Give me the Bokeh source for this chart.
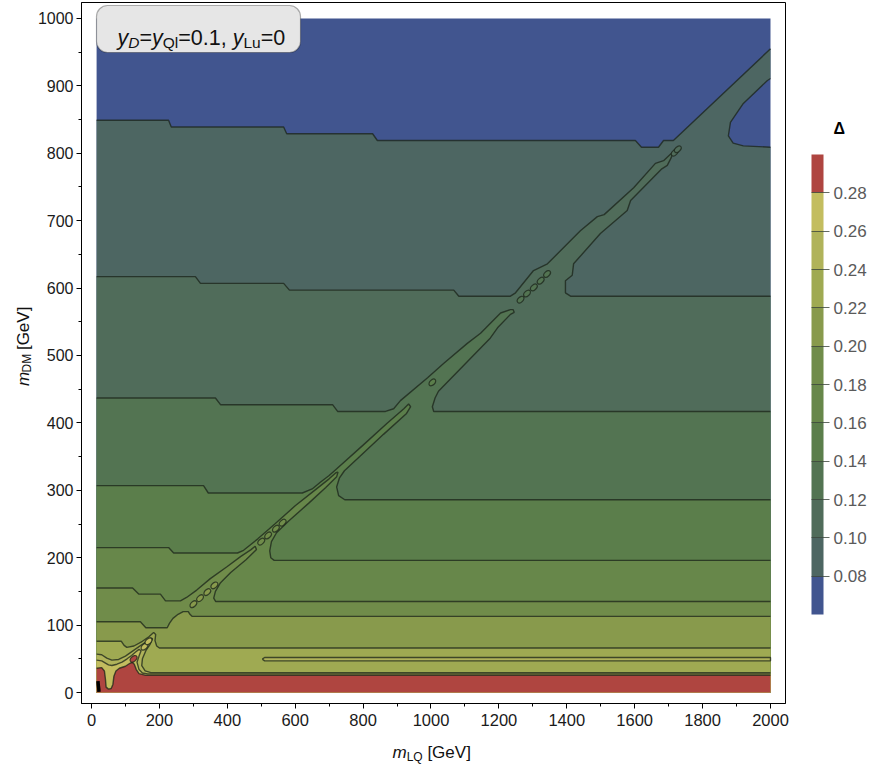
import math
from bokeh.plotting import figure
from bokeh.layouts import row, column
from bokeh.models import (Range1d, SingleIntervalTicker, LinearColorMapper, ColorBar,
                          FixedTicker, PrintfTickFormatter, Label, BoxAnnotation)
from bokeh.embed import file_html
from bokeh.resources import INLINE

# ---------------- data ----------------
levels = [0.08, 0.10, 0.12, 0.14, 0.16, 0.18, 0.20, 0.22, 0.24, 0.26, 0.28]
band_colors = ["#41558F", "#4D6662", "#506C5A", "#537452", "#5B7E4B", "#67874A",
               "#708C4A", "#889A4C", "#9FAA52", "#B0B35A", "#C3BD5F", "#AF4540"]
m_lq_min, m_lq_max = 15, 2000
m_dm_min, m_dm_max = 0, 1000

# contour Delta = 0.08
c08_x = [15, 227, 235, 566, 575, 828, 842, 1602, 1620, 1670, 1685, 1714, 2000]
c08_y = [849, 849, 839, 839, 829, 829, 819, 819, 809, 809, 819, 819, 955]
c08b_x = [2000, 1991, 1920, 1882, 1876, 1890, 1920, 2000]
c08b_y = [911, 908, 874, 846, 826, 815, 811, 809]
# contour Delta = 0.10
c10_x = [15, 306, 321, 566, 583, 1067, 1082, 1234, 1249, 1302, 1343, 1440, 1490, 1510, 1597,
         1661, 1685, 1706, 1712, 1708, 1696, 1680, 1588, 1578, 1499, 1420, 1416, 1396, 1396, 1411, 2000]
c10_y = [617, 617, 607, 607, 597, 597, 588, 588, 593, 626, 636, 685, 706, 709, 749,
         785, 789, 799, 802, 794, 782, 777, 730, 715, 681, 636, 619, 611, 593, 588, 588]
# contour Delta = 0.12
c12_x = [15, 365, 380, 710, 725, 866, 890, 910, 990, 1037, 1107, 1146, 1205, 1234, 1242, 1245,
         1234, 1196, 1175, 1022, 1012, 1004, 1008, 2000]
c12_y = [437, 437, 427, 427, 417, 417, 421, 433, 467, 488, 518, 533, 563, 568, 568, 564,
         561, 541, 526, 447, 437, 424, 417, 417]
# contour Delta = 0.14
c14_x = [15, 330, 344, 621, 650, 674, 700, 720, 800, 870, 920, 934, 940, 928, 860, 790, 745,
         730, 722, 728, 746, 2000]
c14_y = [307, 307, 296, 296, 302, 312, 322, 331, 367, 399, 421, 428, 424, 414, 383, 350, 329,
         318, 305, 292, 286, 286]
# contour Delta = 0.16
c16_x = [15, 227, 242, 430, 448, 490, 540, 600, 660, 700, 720, 726, 722, 690, 640, 580, 545,
         530, 525, 528, 538, 2000]
c16_y = [215, 215, 207, 207, 211, 228, 250, 277, 301, 317, 326, 327, 320, 304, 281, 254, 237,
         224, 210, 200, 196, 196]
# contour Delta = 0.18
c18_x = [15, 121, 139, 203, 218, 262, 280, 310, 350, 400, 440, 470, 482, 486, 455, 410, 380,
         365, 360, 366, 2000]
c18_y = [155, 155, 146, 146, 136, 136, 141, 152, 169, 187, 202, 212, 217, 212, 197, 178, 163,
         150, 140, 135, 135]
# contour Delta = 0.20
c20_x = [15, 144, 160, 223, 230, 240, 255, 270, 285, 290, 296, 2000]
c20_y = [105, 105, 96, 96, 103, 110, 116, 120, 120, 116, 113, 113]
# contour Delta = 0.22
c22_x = [15, 88, 96, 104, 125, 150, 170, 183, 189, 187, 192, 200, 2000]
c22_y = [76, 76, 70, 67, 69, 76, 83, 89, 86, 77, 69, 66, 66]
# contour Delta = 0.24
c24_x = [15, 30, 45, 60, 80, 100, 120, 140, 160, 174, 180, 172, 160, 150, 148, 158, 175, 2000]
c24_y = [57, 56, 51, 48, 49, 54, 61, 68, 75, 81, 80, 71, 62, 50, 40, 32, 29.5, 29.5]
c24i_x = [503, 510, 2000, 2000, 510, 503]
c24i_y = [49.5, 52, 52, 47, 47, 49.5]
# contour Delta = 0.26
c26_x = [15, 30, 40, 50, 60, 75, 90, 105, 118, 130, 140, 146, 140, 134, 140, 150, 165, 2000]
c26_y = [48, 47, 44, 41, 40, 42, 45, 50, 55, 60, 64, 62, 54, 45, 34, 29, 27.5, 27.5]
# contour Delta = 0.28
c28_x = [15, 30, 38, 41, 43, 50, 58, 63, 66, 72, 82, 100, 112, 120, 126, 132, 140, 160, 2000]
c28_y = [36, 37, 32, 20, 8, 5, 6, 12, 24, 32, 36, 39, 43, 45, 42, 34, 28, 25.5, 25.5]

# small closed islands along the diagonal (centre, level exceeded)
isl_x = [1264, 1283, 1303, 1323, 1342, 1718, 1727, 1004, 500, 520, 543, 563, 300, 320, 341, 362, 124, 156, 168]
isl_y = [583, 592, 601, 611, 621, 801, 806, 460, 224, 233, 243, 252, 131, 140, 149, 159, 50, 68, 76]
isl_level = [0.12, 0.12, 0.12, 0.12, 0.12, 0.10, 0.10, 0.14, 0.18, 0.18, 0.18, 0.18,
             0.20, 0.20, 0.20, 0.20, 0.28, 0.26, 0.26]

# dense cluster of contour lines near the origin
dense_x = [19, 20, 21.5, 22]
dense_y = [17, 11, 5, 1]

x_ticks_step, y_ticks_step = 200, 100
cbar_low, cbar_high = 0.06, 0.30

contour_pieces = [
    [(c08_x, c08_y), (c08b_x, c08b_y)],
    [(c10_x, c10_y)], [(c12_x, c12_y)], [(c14_x, c14_y)], [(c16_x, c16_y)],
    [(c18_x, c18_y)], [(c20_x, c20_y)], [(c22_x, c22_y)], [(c24_x, c24_y)],
    [(c26_x, c26_y)], [(c28_x, c28_y)],
]

# ---------------- layout geometry (page pixels) ----------------
PAGE_W, PAGE_H = 874, 765
LEFT_W = 34          # strip holding the y-axis title
BOTTOM_H = 30        # strip holding the x-axis title
RIGHT_X = 800        # start of the strip holding the colour bar
FL, FR, FT, FB = 81, 785, 2, 703
X0, X1 = -29.46, 2044.2
Y0, Y1 = -16.3, 1023.7
FONT = "Liberation Sans"
TOP_H = PAGE_H - BOTTOM_H

p = figure(width=RIGHT_X - LEFT_W, height=TOP_H, output_backend="svg", toolbar_location=None,
           x_range=Range1d(X0, X1), y_range=Range1d(Y0, Y1),
           min_border_left=FL - LEFT_W, min_border_right=RIGHT_X - FR, min_border_top=FT,
           min_border_bottom=TOP_H - FB)
p.background_fill_color = "white"
p.border_fill_color = "white"
p.outline_line_color = "black"
p.outline_line_width = 1
p.xgrid.grid_line_color = None
p.ygrid.grid_line_color = None

# base band (lowest level)
p.quad(left=[m_lq_min], right=[m_lq_max], bottom=[m_dm_min], top=[m_dm_max],
       fill_color=band_colors[0], line_color=None)

# superlevel regions, painted in increasing order
poly_xs, poly_ys, poly_cols = [], [], []
for k, pieces in enumerate(contour_pieces):
    xs = [m_lq_min]
    ys = [m_dm_min]
    for px_, py_ in pieces:
        xs += list(px_)
        ys += list(py_)
    xs.append(m_lq_max)
    ys.append(m_dm_min)
    poly_xs.append(xs)
    poly_ys.append(ys)
    poly_cols.append(band_colors[k + 1])
p.patches(poly_xs, poly_ys, fill_color=poly_cols, line_color=None)

p.patch(c24i_x, c24i_y, fill_color=band_colors[levels.index(0.24) + 1], line_color=None)

# contour lines
line_xs, line_ys = [], []
for pieces in contour_pieces:
    for px_, py_ in pieces:
        line_xs.append(list(px_))
        line_ys.append(list(py_))
line_xs.append(c24i_x)
line_ys.append(c24i_y)
p.multi_line(line_xs, line_ys, line_color="#1b2419", line_alpha=0.75, line_width=1.4)

isl_cols = [band_colors[levels.index(l) + 1] for l in isl_level]
p.ellipse(x=isl_x, y=isl_y, width=8, height=5, width_units="screen", height_units="screen",
          angle=0.77, fill_color=isl_cols, line_color="#1b2419", line_alpha=0.75, line_width=1.2)

p.line(dense_x, dense_y, line_color="black", line_width=3.5)

# axes
p.xaxis.ticker = SingleIntervalTicker(interval=x_ticks_step, num_minor_ticks=2)
p.yaxis.ticker = SingleIntervalTicker(interval=y_ticks_step, num_minor_ticks=2)
for ax in (p.xaxis[0], p.yaxis[0]):
    ax.axis_line_color = "black"
    ax.major_tick_line_color = "black"
    ax.minor_tick_line_color = "black"
    ax.major_tick_in = 0
    ax.major_tick_out = 5
    ax.minor_tick_in = 0
    ax.minor_tick_out = 3
    ax.major_label_text_font = FONT
    ax.major_label_text_color = "#1a1a1a"
p.xaxis.major_label_text_font_size = "16.5px"
p.yaxis.major_label_text_font_size = "16px"
p.xaxis.major_label_standoff = 5
p.yaxis.major_label_standoff = 3


def dx(px):
    return X0 + (px - FL) * (X1 - X0) / (FR - FL)


def dy(py):
    return Y0 + (FB - py) * (Y1 - Y0) / (FB - FT)


def strip(w, h):
    f = figure(width=w, height=h, output_backend="svg", toolbar_location=None,
               x_range=Range1d(0, w), y_range=Range1d(0, h),
               x_axis_type=None, y_axis_type=None, min_border=0)
    f.outline_line_color = None
    f.background_fill_color = "white"
    f.border_fill_color = "white"
    return f


pl = strip(LEFT_W, TOP_H)
pr = strip(PAGE_W - RIGHT_X, TOP_H)
pb = strip(PAGE_W, BOTTOM_H)

WID = {' ': 278, '[': 278, ']': 278, 'G': 778, 'e': 556, 'V': 667, 'm': 833, 'L': 556,
       'Q': 778, 'D': 722, 'M': 833, 'y': 500, '=': 584, '0': 556, '1': 556, '.': 278,
       ',': 278, 'l': 222, 'u': 556}


def tw(s, size):
    return sum(WID.get(c, 556) for c in s) * size / 1000.0


def rich(fig, fx, fy, segs, px0, py0, vertical=False, color="#111111"):
    pos = px0 if not vertical else py0
    for txt, size, ital, drop in segs:
        lead = len(txt) - len(txt.lstrip(" "))
        shift = tw(" " * lead, size)
        body = txt.lstrip(" ")
        if vertical:
            pos -= shift
            lab = Label(x=fx(px0 + drop), y=fy(pos), text=body, angle=math.pi / 2)
            pos -= tw(body, size)
        else:
            pos += shift
            lab = Label(x=fx(pos), y=fy(py0 + drop), text=body)
            pos += tw(body, size)
        lab.text_font = FONT
        lab.text_font_size = f"{size}px"
        lab.text_font_style = "italic" if ital else "normal"
        lab.text_color = color
        lab.text_align = "left"
        lab.text_baseline = "alphabetic"
        fig.add_layout(lab)


# parameter box
box = BoxAnnotation(left=dx(96), right=dx(300), top=dy(5), bottom=dy(52),
                    fill_color="#E6E6E6", fill_alpha=1.0, line_color="black",
                    line_width=1.2, border_radius=11)
p.add_layout(box)
rich(p, dx, dy,
     [("y", 21.5, True, 0), ("D", 15.5, True, 4.5), ("=", 21.5, False, 0), ("y", 21.5, True, 0),
      ("Ql", 15.5, False, 4.5), ("=0.1, ", 21.5, False, 0), ("y", 21.5, True, 0),
      ("Lu", 15.5, False, 4.5), ("=0", 21.5, False, 0)], 117, 37.5)

# axis titles
rich(pb, lambda px: px, lambda py: PAGE_H - py,
     [("m", 17, True, 0), ("LQ", 12, False, 4), (" [GeV]", 17, False, 0)], 392, 752)
rich(pl, lambda px: px, lambda py: TOP_H - py,
     [("m", 17, True, 0), ("DM", 12, False, 3.5), (" [GeV]", 17, False, 0)], 23, 402, vertical=True)

# colour bar in the right strip
mapper = LinearColorMapper(palette=band_colors, low=cbar_low, high=cbar_high)
cbar = ColorBar(color_mapper=mapper, ticker=FixedTicker(ticks=levels),
                formatter=PrintfTickFormatter(format="%.2f"),
                width=12, height=460, padding=0, location=(811 - RIGHT_X, TOP_H - 612 - 34),
                major_tick_in=12, major_tick_out=6, major_tick_line_color="#3c463c",
                major_tick_line_alpha=0.8, minor_tick_line_color=None,
                bar_line_color=None, label_standoff=4,
                major_label_text_font=FONT, major_label_text_font_size="17px",
                major_label_text_color="#5a5a5a", background_fill_color=None,
                border_line_color=None)
pr.add_layout(cbar)
pr.add_layout(Label(x=833 - RIGHT_X, y=TOP_H - 132, text="Δ", text_font=FONT,
                    text_font_size="16px", text_font_style="bold", text_color="black",
                    text_align="left", text_baseline="alphabetic"))

layout = column(row(pl, p, pr, spacing=0), pb, spacing=0)
open("out.html", "w").write(file_html(layout, INLINE))
